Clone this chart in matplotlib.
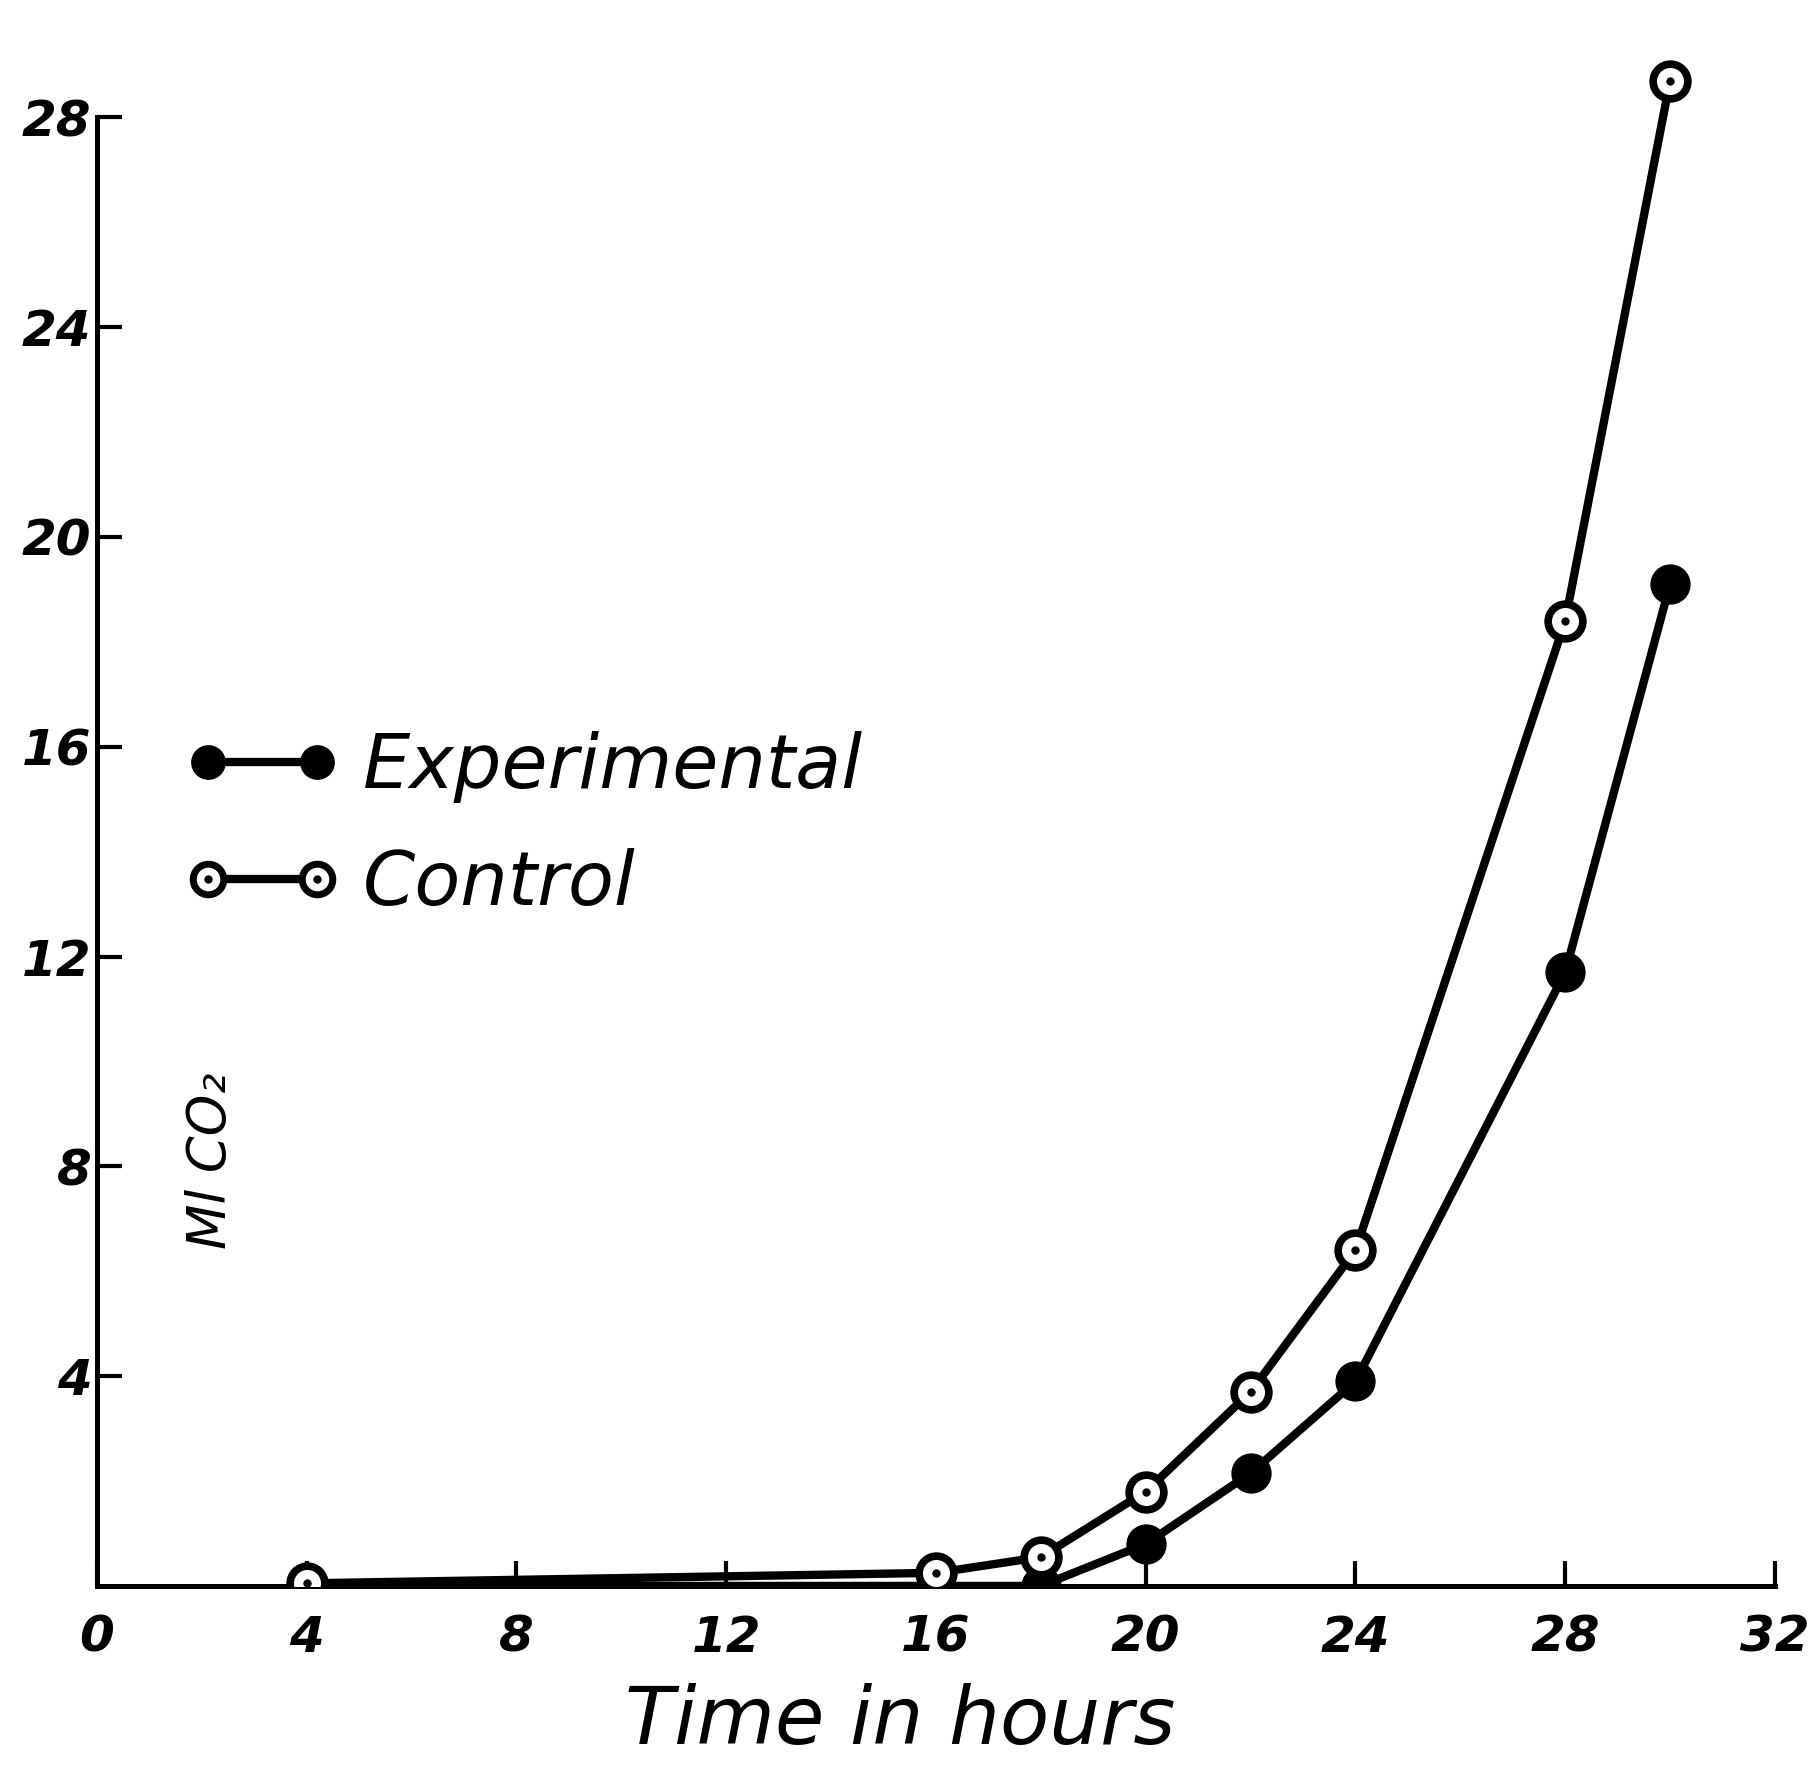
import matplotlib
matplotlib.use("Agg")
import matplotlib.pyplot as plt
from matplotlib.lines import Line2D

# ---- data ----
hours = [4, 16, 18, 20, 22, 24, 28, 30]
control = [0.05, 0.25, 0.55, 1.8, 3.7, 6.4, 18.4, 28.7]
experimental = [0.0, 0.0, 0.0, 0.8, 2.15, 3.9, 11.7, 19.1]
x_ticks = [0, 4, 8, 12, 16, 20, 24, 28, 32]
y_ticks = [4, 8, 12, 16, 20, 24, 28]
x_label = "Time in hours"
y_label = "Ml CO\u2082"
series_names = ["Experimental", "Control"]

plt.rcParams['font.family'] = ['DejaVu Sans']

fig = plt.figure(figsize=(18.09, 17.72), dpi=100)
ax = fig.add_axes([0.0536, 0.105, 0.945, 0.888])
ax.set_xlim(0, 32.6)
ax.set_ylim(0, 30)

lw = 6
# experimental: filled circles
ax.plot(hours, experimental, color='black', lw=lw, marker='o', markersize=28,
        markerfacecolor='black', markeredgecolor='black',
        markevery=list(range(1, len(hours))), label=series_names[0],
        solid_capstyle='round', zorder=3)
# control: open circles with central dot
ax.plot(hours, control, color='black', lw=lw, marker='o', markersize=25,
        markerfacecolor='white', markeredgecolor='black', markeredgewidth=5.5,
        label=series_names[1], solid_capstyle='round', zorder=4)
ax.plot(hours, control, ls='none', marker='o', markersize=5, color='black', zorder=5)

# spines
for s in ['top', 'right']:
    ax.spines[s].set_visible(False)
ax.spines['left'].set_linewidth(3.6)
ax.spines['bottom'].set_linewidth(3.6)
ax.spines['left'].set_bounds(0, 28)
ax.spines['bottom'].set_bounds(0, 32)

ax.set_xticks(x_ticks)
ax.set_xticklabels([str(t) for t in x_ticks])
ax.set_yticks(y_ticks)
ax.set_yticklabels([str(t) for t in y_ticks])
ax.tick_params(axis='both', direction='in', length=18, width=3, color='black')
ax.tick_params(axis='x', pad=20)
ax.tick_params(axis='y', pad=4)
for lab in ax.get_xticklabels() + ax.get_yticklabels():
    lab.set_fontsize(36)
    lab.set_fontstyle('italic')
    lab.set_fontweight('bold')

ax.set_xlabel(x_label, fontsize=58, fontstyle='italic')
ax.xaxis.set_label_coords(0.47, -0.062)
ax.set_ylabel(y_label, fontsize=38, fontstyle='italic')
ax.yaxis.set_label_coords(0.082, 0.27)

# legend with a dotted open marker for control
h_exp = Line2D([], [], color='black', lw=lw, marker='o', markersize=24,
               markerfacecolor='black', markeredgecolor='black')
h_ctl = Line2D([], [], color='black', lw=lw, marker='o', markersize=22,
               markerfacecolor='white', markeredgecolor='black', markeredgewidth=5)
h_dot = Line2D([], [], ls='none', marker='o', markersize=5, color='black')
leg = ax.legend([h_exp, (h_ctl, h_dot)], series_names, loc='center left',
                bbox_to_anchor=(0.052, 0.483), frameon=False, numpoints=2,
                handlelength=2.05, handletextpad=0.31, labelspacing=0.6,
                borderpad=0, borderaxespad=0,
                prop={'size': 54, 'style': 'italic'})

fig.savefig("out.png", dpi=100, facecolor='white')
